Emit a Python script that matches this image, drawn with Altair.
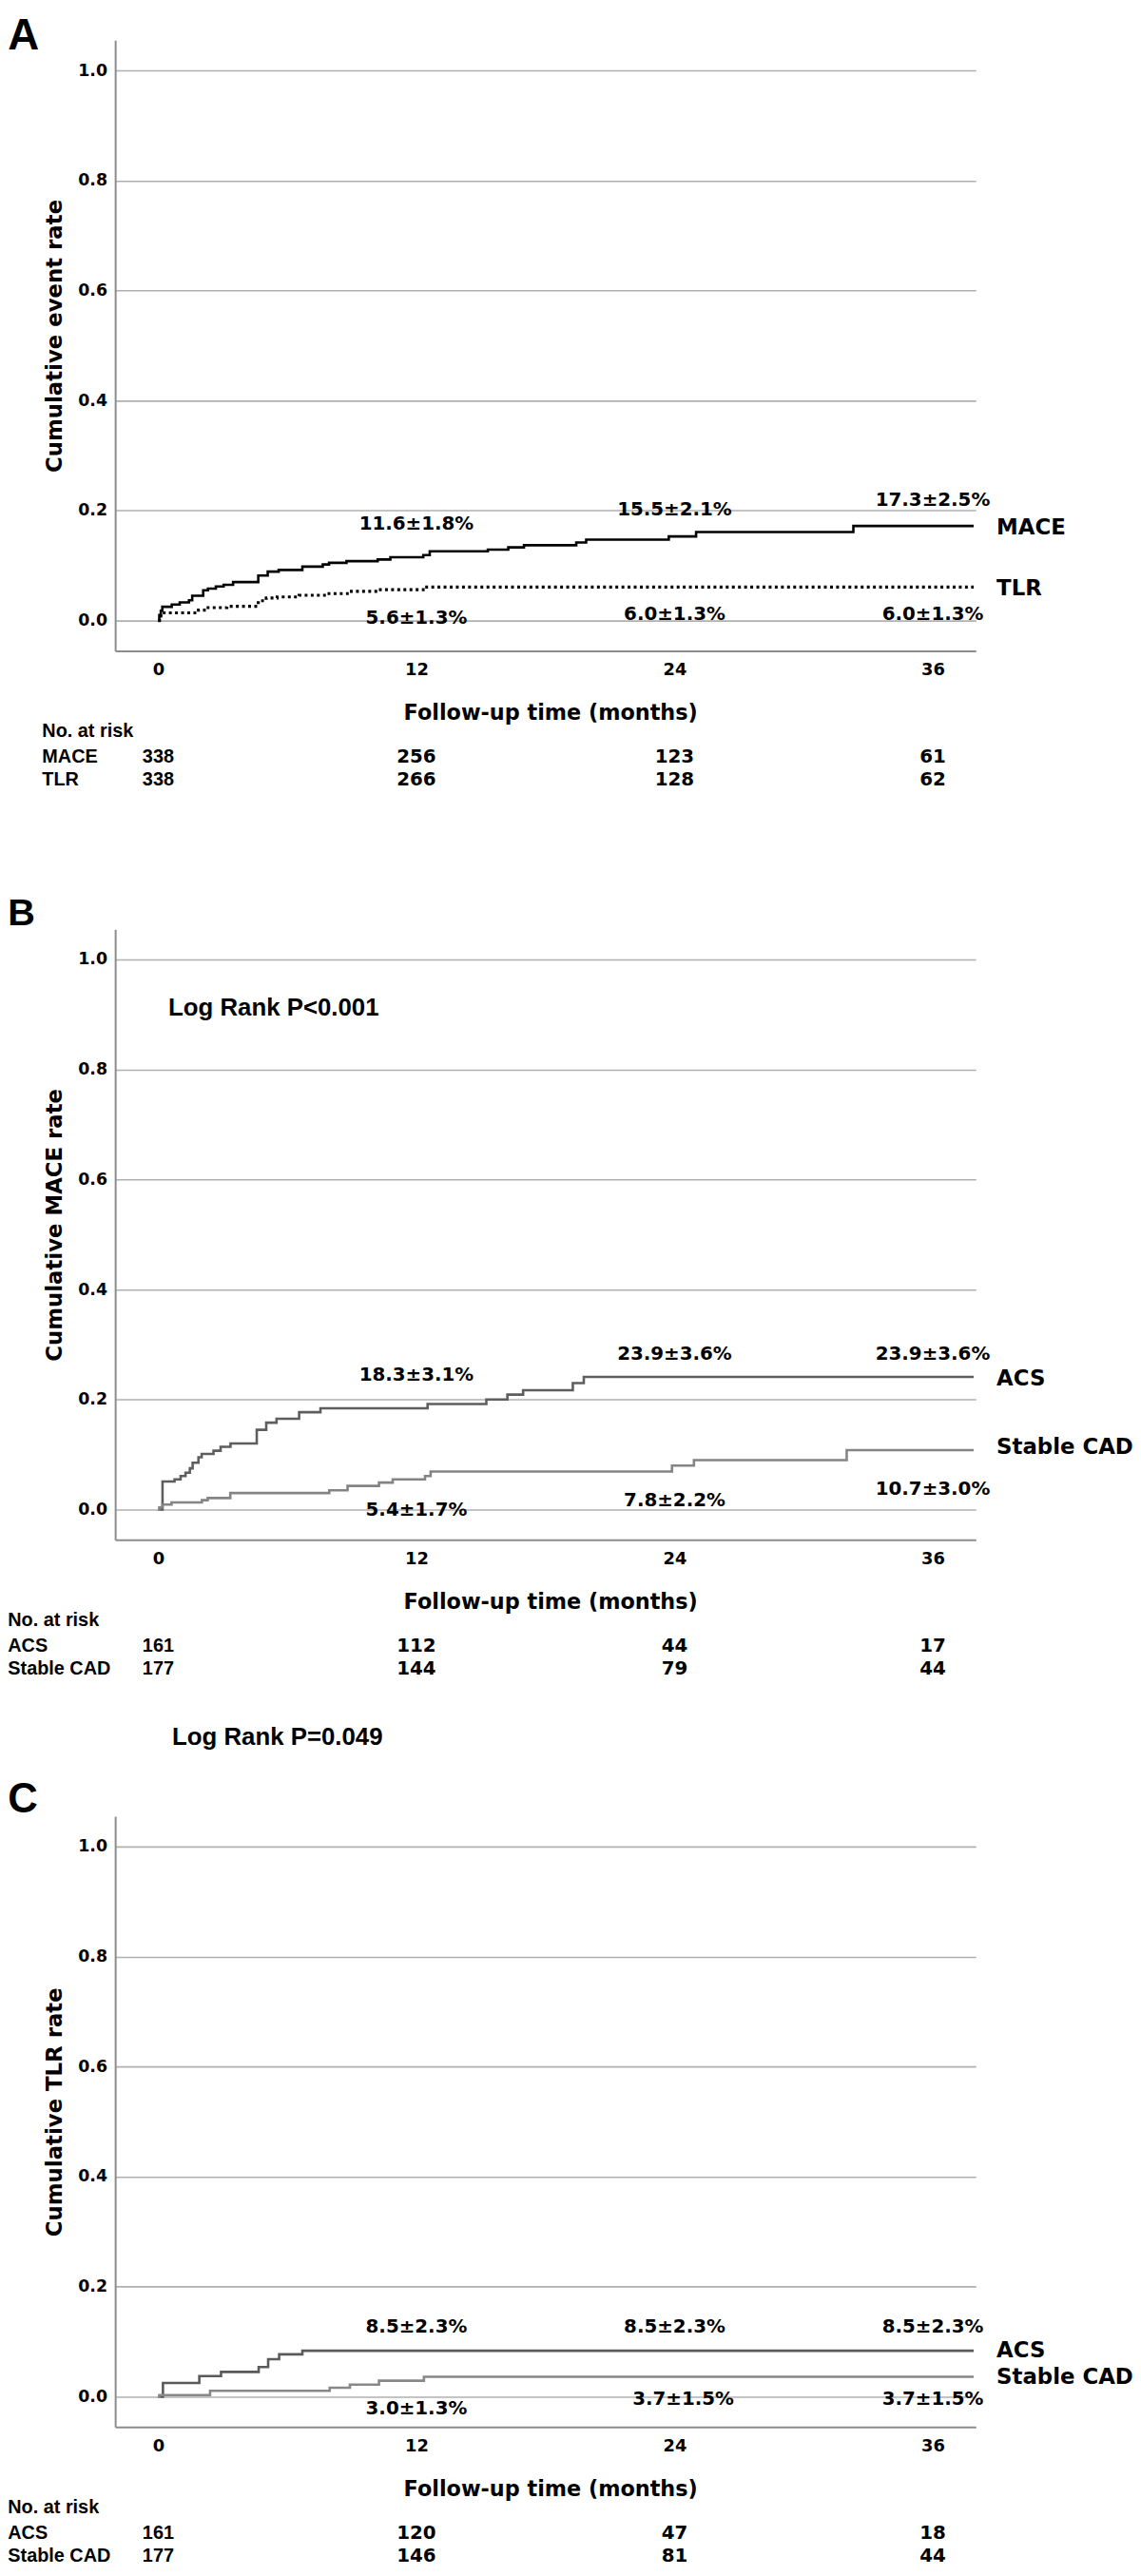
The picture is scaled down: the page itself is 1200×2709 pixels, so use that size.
import altair as alt
import pandas as pd

# ---------------- data ----------------
months_ticks = [0, 12, 24, 36]

# Panel A
a_mace_t = [0, 0.05, 0.12, 0.19, 0.63, 1.0, 1.43, 1.58, 2.09, 2.31, 2.68, 3.04, 3.48, 4.65, 5.09, 5.6,
            6.7, 7.65, 7.94, 8.75, 10.2, 10.79, 12.32, 12.62, 15.32, 16.27, 17.0, 19.43, 19.89, 23.73,
            25.0, 32.31, 37.9]
a_mace_v = [0, 0.01, 0.018, 0.025, 0.029, 0.033, 0.037, 0.045, 0.055, 0.058, 0.062, 0.065, 0.070, 0.082,
            0.089, 0.092, 0.098, 0.102, 0.105, 0.108, 0.111, 0.115, 0.119, 0.126, 0.129, 0.133, 0.137,
            0.142, 0.147, 0.153, 0.161, 0.172, 0.172]
a_tlr_t = [0, 0.06, 0.12, 1.87, 2.24, 3.19, 4.65, 5.02, 5.53, 6.55, 7.87, 8.89, 10.2, 12.4, 37.9]
a_tlr_v = [0, 0.008, 0.014, 0.019, 0.0235, 0.026, 0.036, 0.041, 0.043, 0.046, 0.049, 0.053, 0.056, 0.061, 0.061]

a_ann_text = ["11.6±1.8%", "15.5±2.1%", "17.3±2.5%", "5.6±1.3%", "6.0±1.3%", "6.0±1.3%"]
a_groups = ["MACE", "TLR"]
a_risk = {"MACE": [338, 256, 123, 61], "TLR": [338, 266, 128, 62]}

# Panel B
b_acs_t = [0, 0.2, 0.76, 1.04, 1.27, 1.47, 1.6, 1.87, 2.02, 2.57, 2.9, 3.36, 4.58, 5.02, 5.5, 6.55,
           7.54, 12.52, 15.25, 16.23, 16.96, 19.27, 19.78, 37.9]
b_acs_v = [0, 0.051, 0.055, 0.061, 0.067, 0.075, 0.085, 0.095, 0.101, 0.107, 0.114, 0.120, 0.145,
           0.158, 0.165, 0.177, 0.184, 0.192, 0.200, 0.209, 0.217, 0.230, 0.241, 0.241]
b_cad_t = [0, 0.05, 0.2, 0.62, 2.03, 2.3, 3.35, 7.95, 8.8, 10.26, 10.9, 12.4, 12.66, 23.88, 24.9, 32.0, 37.9]
b_cad_v = [0, 0.004, 0.009, 0.013, 0.017, 0.021, 0.030, 0.035, 0.043, 0.049, 0.055, 0.061, 0.069,
           0.080, 0.090, 0.108, 0.108]
b_ann_text = ["18.3±3.1%", "23.9±3.6%", "23.9±3.6%", "5.4±1.7%", "7.8±2.2%", "10.7±3.0%"]
b_groups = ["ACS", "Stable CAD"]
b_risk = {"ACS": [161, 112, 44, 17], "Stable CAD": [177, 144, 79, 44]}
b_logrank = "Log Rank P<0.001"

# Panel C
c_acs_t = [0, 0.22, 1.91, 2.92, 4.67, 5.11, 5.62, 6.7, 37.9]
c_acs_v = [0, 0.025, 0.0375, 0.045, 0.054, 0.068, 0.077, 0.0835, 0.0835]
c_cad_t = [0, 0.05, 2.41, 7.97, 8.91, 10.26, 12.35, 37.9]
c_cad_v = [0, 0.003, 0.0106, 0.0162, 0.022, 0.029, 0.036, 0.036]
c_ann_text = ["8.5±2.3%", "8.5±2.3%", "8.5±2.3%", "3.0±1.3%", "3.7±1.5%", "3.7±1.5%"]
c_groups = ["ACS", "Stable CAD"]
c_risk = {"ACS": [161, 120, 47, 18], "Stable CAD": [177, 146, 81, 44]}
c_logrank = "Log Rank P=0.049"

# ---------------- layout / style ----------------
W, H = 912, 647
XDOM = [-2, 38]
YDOM = [-0.055, 1.055]
DV = "DejaVu Sans"
LS = "Liberation Sans"

# annotation anchor positions (month, value)
a_ann_pos = [(12, 0.176), (24, 0.202), (36, 0.219), (12, 0.005), (24, 0.012), (36, 0.012)]
b_ann_pos = [(12, 0.245), (24, 0.282), (36, 0.282), (12, -0.001), (24, 0.017), (36, 0.037)]
c_ann_pos = [(12, 0.126), (24, 0.126), (36, 0.126), (12, -0.021), (24.4, -0.0045), (36, -0.0045)]
a_side_y = [0.169, 0.0576]
b_side_y = [0.238, 0.113]
c_side_y = [0.0835, 0.0359]

xs = alt.Scale(domain=XDOM, nice=False, zero=False)
ys = alt.Scale(domain=YDOM, nice=False, zero=False)


def make_axes(ytitle):
    xaxis = alt.Axis(values=months_ticks, grid=False, ticks=False, domainColor="#8c8c8c", domainWidth=2,
                     labelFont=DV, labelFontWeight="bold", labelFontSize=18, labelColor="black",
                     labelPadding=11, labelFlush=False, labelOverlap=False,
                     title="Follow-up time (months)", titleFont=DV, titleFontWeight="bold",
                     titleFontSize=22.5, titleColor="black", titlePadding=25.5, titleX=461)
    yaxis = alt.Axis(values=[0, 0.2, 0.4, 0.6, 0.8, 1.0], format=".1f", grid=True, gridColor="#b0b0b0",
                     gridWidth=1.6, ticks=False, domainColor="#8c8c8c", domainWidth=2,
                     labelFont=DV, labelFontWeight="bold", labelFontSize=17.5, labelColor="black",
                     labelPadding=8.7, labelOverlap=False,
                     title=ytitle, titleFont=DV, titleFontWeight="bold", titleFontSize=23,
                     titleColor="black", titlePadding=12, titleY=313)
    return xaxis, yaxis


def curve(t, v, color, width, dash=None, axes=None):
    df = pd.DataFrame({"month": t, "value": v})
    kw = dict(interpolate="step-after", color=color, strokeWidth=width, strokeCap="butt")
    if dash:
        kw["strokeDash"] = dash
    if axes:
        enc = dict(x=alt.X("month:Q", scale=xs, axis=axes[0]), y=alt.Y("value:Q", scale=ys, axis=axes[1]))
    else:
        enc = dict(x=alt.X("month:Q", scale=xs), y=alt.Y("value:Q", scale=ys))
    return alt.Chart(df).mark_line(**kw).encode(**enc)


def txt(text, x, y, size, font=DV, align="left", baseline="alphabetic", weight="bold"):
    df = pd.DataFrame({"label": [text]})
    return alt.Chart(df).mark_text(align=align, baseline=baseline, font=font, fontSize=size,
                                   fontWeight=weight, color="black").encode(
        x=alt.value(x), y=alt.value(y), text="label:N")


def spacer(y, baseline):
    df = pd.DataFrame({"label": [" "]})
    return alt.Chart(df).mark_text(fontSize=1, baseline=baseline, align="left").encode(
        x=alt.value(0), y=alt.value(y), text="label:N")


def panel(letter, letter_size, letter_y, ytitle, curves, ann_text, ann_pos, groups, side_y, risk,
          row_label_x, extras, spacers):
    axes = make_axes(ytitle)
    layers = []
    for i, c in enumerate(curves):
        layers.append(curve(*c, axes=axes if i == 0 else None))
    ann_df = pd.DataFrame({"label": ann_text, "month": [p[0] for p in ann_pos],
                           "value": [p[1] for p in ann_pos]})
    layers.append(alt.Chart(ann_df).mark_text(font=DV, fontSize=20, fontWeight="bold", color="black",
                                              align="center", baseline="middle").encode(
        x=alt.X("month:Q", scale=xs), y=alt.Y("value:Q", scale=ys), text="label:N"))
    side_df = pd.DataFrame({"label": groups, "value": side_y})
    layers.append(alt.Chart(side_df).mark_text(font=DV, fontSize=23, fontWeight="bold", color="black",
                                               align="left", baseline="middle").encode(
        x=alt.value(W + 22), y=alt.Y("value:Q", scale=ys), text="label:N"))
    # letter
    layers.append(txt(letter, -113.7, letter_y, letter_size, font=LS))
    # risk table
    layers.append(txt("No. at risk", row_label_x, 738, 20, font=LS))
    row_offsets = [765.4, 789.6]
    for g, off in zip(groups, row_offsets):
        layers.append(txt(g, row_label_x, off, 20, font=LS))
        vals = risk[g]
        d0 = pd.DataFrame({"month": months_ticks[:1], "label": [str(v) for v in vals[:1]]})
        d1 = pd.DataFrame({"month": months_ticks[1:], "label": [str(v) for v in vals[1:]]})
        layers.append(alt.Chart(d0).mark_text(font=LS, fontSize=20, fontWeight="bold", color="black",
                                              align="center", baseline="alphabetic").encode(
            x=alt.X("month:Q", scale=xs), y=alt.value(off), text="label:N"))
        layers.append(alt.Chart(d1).mark_text(font=DV, fontSize=20, fontWeight="bold", color="black",
                                              align="center", baseline="alphabetic").encode(
            x=alt.X("month:Q", scale=xs), y=alt.value(off), text="label:N"))
    for e in extras:
        layers.append(txt(*e, font=LS))
    for s in spacers:
        layers.append(spacer(*s))
    return alt.layer(*layers).properties(width=W, height=H)


pA = panel("A", 46, 9.4, "Cumulative event rate",
           [(a_mace_t, a_mace_v, "#000000", 2.6), (a_tlr_t, a_tlr_v, "#000000", 3.2, [3, 3.5])],
           a_ann_text, a_ann_pos, a_groups, a_side_y, a_risk, -77.4, [],
           [(-50, "top"), (841.7, "bottom")])
pB = panel("B", 40, -4, "Cumulative MACE rate",
           [(b_acs_t, b_acs_v, "#5e5e5e", 2.6), (b_cad_t, b_cad_v, "#848484", 2.6)],
           b_ann_text, b_ann_pos, b_groups, b_side_y, b_risk, -113.7,
           [(b_logrank, 56.3, 91, 26)],
           [(-100, "top"), (840, "bottom")])
pC = panel("C", 44, -4, "Cumulative TLR rate",
           [(c_acs_t, c_acs_v, "#5a5a5a", 2.6), (c_cad_t, c_cad_v, "#888888", 2.6)],
           c_ann_text, c_ann_pos, c_groups, c_side_y, c_risk, -113.7,
           [(c_logrank, 60.3, -76, 26)],
           [(-100, "top")])

chart = alt.vconcat(pA, pB, pC, spacing=0).properties(
    padding={"top": -25.7, "left": 0, "right": 0, "bottom": 0}
).configure_view(stroke=None)

chart.save("out.html", embed_options={"renderer": "svg", "actions": False})
